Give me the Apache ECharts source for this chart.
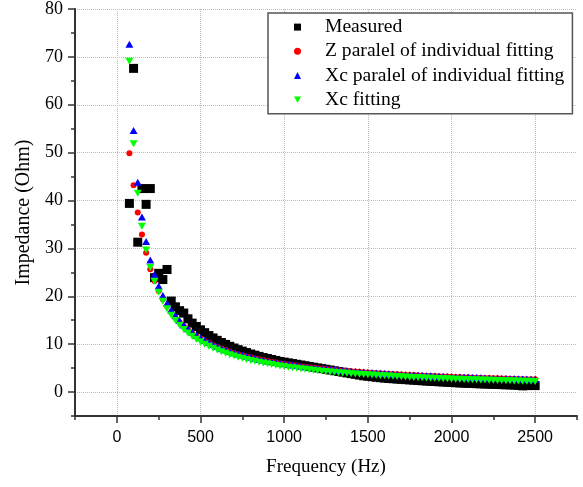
<!DOCTYPE html>
<html>
<head>
<meta charset="utf-8">
<script src="https://cdn.jsdelivr.net/npm/echarts@6/dist/echarts.min.js"></script>
<style>
html,body{margin:0;padding:0;background:#fff;}
#chart{width:583px;height:487px;}
</style>
</head>
<body>
<div id="chart"></div>
<script>
const freq = [75,100,125,150,175,200,225,250,275,300,325,350,375,400,425,450,475,500,525,550,575,600,625,650,675,700,725,750,775,800,825,850,875,900,925,950,975,1000,1025,1050,1075,1100,1125,1150,1175,1200,1225,1250,1275,1300,1325,1350,1375,1400,1425,1450,1475,1500,1525,1550,1575,1600,1625,1650,1675,1700,1725,1750,1775,1800,1825,1850,1875,1900,1925,1950,1975,2000,2025,2050,2075,2100,2125,2150,2175,2200,2225,2250,2275,2300,2325,2350,2375,2400,2425,2450,2475,2500];

const measured = [39.4,67.6,31.3,42.5,39.2,42.5,23.9,24.8,23.5,25.6,19.0,17.8,17.0,16.5,15.3,14.4,13.7,13.0,12.4,11.8,11.3,10.8,10.35,9.95,9.55,9.2,8.85,8.55,8.25,7.95,7.7,7.45,7.2,7.0,6.8,6.6,6.4,6.25,6.1,5.95,5.8,5.65,5.5,5.35,5.2,5.05,4.9,4.75,4.6,4.45,4.3,4.15,4.0,3.85,3.7,3.55,3.4,3.3,3.2,3.1,3.0,2.92,2.85,2.78,2.72,2.66,2.6,2.54,2.48,2.42,2.36,2.3,2.25,2.2,2.15,2.1,2.05,2.0,1.95,1.9,1.87,1.83,1.8,1.75,1.72,1.68,1.65,1.62,1.58,1.55,1.52,1.5,1.45,1.4,1.3,1.35,1.4,1.35];

const zParallel = [49.9,43.2,37.5,32.9,29.1,25.64,23.17,21.12,19.39,17.92,16.66,15.56,14.60,13.76,13.00,12.33,11.72,11.17,10.68,10.23,9.81,9.43,9.08,8.76,8.46,8.17,7.91,7.67,7.44,7.23,7.02,6.84,6.66,6.48,6.32,6.18,6.03,5.89,5.76,5.63,5.51,5.40,5.29,5.19,5.09,4.99,4.90,4.81,4.72,4.64,4.56,4.49,4.42,4.35,4.28,4.22,4.16,4.10,4.04,3.98,3.93,3.87,3.82,3.77,3.72,3.67,3.63,3.58,3.54,3.50,3.46,3.42,3.38,3.34,3.30,3.27,3.23,3.20,3.16,3.13,3.10,3.07,3.04,3.01,2.98,2.95,2.92,2.90,2.87,2.84,2.82,2.79,2.77,2.75,2.72,2.70,2.68,2.65];

const xcParallel = [72.66,54.62,43.80,36.58,31.43,27.56,24.55,22.15,20.18,18.54,17.15,15.96,14.93,14.03,13.23,12.53,11.89,11.32,10.81,10.34,9.91,9.52,9.16,8.83,8.52,8.23,7.96,7.72,7.48,7.27,7.06,6.87,6.69,6.51,6.35,6.20,6.05,5.91,5.78,5.65,5.53,5.42,5.31,5.21,5.11,5.01,4.92,4.83,4.74,4.66,4.58,4.51,4.44,4.37,4.30,4.23,4.17,4.11,4.05,3.99,3.94,3.88,3.83,3.78,3.73,3.68,3.64,3.59,3.55,3.51,3.47,3.43,3.39,3.35,3.31,3.28,3.24,3.21,3.17,3.14,3.11,3.08,3.05,3.02,2.99,2.96,2.93,2.91,2.88,2.85,2.83,2.80,2.78,2.76,2.73,2.71,2.69,2.66];

const xcFitting = [69.08,51.85,41.51,34.62,29.69,26.00,23.13,20.83,18.95,17.38,16.06,14.92,13.94,13.08,12.31,11.64,11.03,10.49,10.00,9.55,9.14,8.77,8.42,8.10,7.81,7.54,7.28,7.04,6.82,6.61,6.42,6.23,6.06,5.89,5.74,5.59,5.45,5.32,5.19,5.07,4.96,4.85,4.75,4.65,4.55,4.46,4.37,4.29,4.20,4.13,4.05,3.98,3.91,3.84,3.78,3.72,3.66,3.60,3.54,3.49,3.43,3.38,3.33,3.28,3.24,3.19,3.15,3.10,3.06,3.02,2.98,2.94,2.91,2.87,2.84,2.80,2.77,2.74,2.70,2.67,2.64,2.61,2.58,2.55,2.53,2.50,2.47,2.45,2.42,2.40,2.37,2.35,2.33,2.30,2.28,2.26,2.24,2.22];

const seriesNames = ['Measured','Z paralel of individual fitting','Xc paralel of individual fitting','Xc fitting'];
const xMajorTicks = [0,500,1000,1500,2000,2500];
const yMajorTicks = [0,10,20,30,40,50,60,70,80];

const pairs = arr => freq.map((f, i) => [f, arr[i]]);
const axisColor = '#333';
const downTri = 'path://M0,0L10,0L5,9Z';
const plain = v => String(v);

const chart = echarts.init(document.getElementById('chart'), null, {renderer: 'canvas'});
chart.setOption({
  animation: false,
  backgroundColor: '#fff',
  grid: {left: 75, right: 6, top: 9, bottom: 71, containLabel: false},
  legend: {
    orient: 'vertical', left: 268, top: 13,
    padding: [2, 8, 2, 26], itemGap: 0, itemWidth: 7, itemHeight: 7,
    borderColor: '#555', borderWidth: 1.5, backgroundColor: '#fff',
    textStyle: {fontFamily: 'Liberation Serif', fontSize: 19.6, lineHeight: 24.2, color: '#000', padding: [0, 0, 0, 19]},
    data: [
      {name: seriesNames[0], icon: 'rect'},
      {name: seriesNames[1], icon: 'circle'},
      {name: seriesNames[2], icon: 'triangle'},
      {name: seriesNames[3], icon: downTri}
    ]
  },
  xAxis: [
    {
      type: 'value', min: -250, max: 2750, interval: 250, position: 'bottom',
      axisLine: {show: true, onZero: false, lineStyle: {color: axisColor, width: 2}},
      axisTick: {show: true, inside: false, length: 4, lineStyle: {color: axisColor, width: 1.5}},
      axisLabel: {show: false}, splitLine: {show: false}
    },
    {
      type: 'value', min: -250, max: 2750, position: 'bottom', offset: 0,
      name: 'Frequency (Hz)', nameLocation: 'middle', nameGap: 42,
      nameTextStyle: {fontFamily: 'Liberation Serif', fontSize: 19, color: '#000'},
      axisLine: {show: false, onZero: false},
      axisTick: {show: true, inside: false, length: 7, customValues: xMajorTicks, lineStyle: {color: axisColor, width: 1.5}},
      axisLabel: {show: true, customValues: xMajorTicks, formatter: plain, margin: 14, fontFamily: 'Liberation Sans', fontSize: 16, color: '#000'},
      splitLine: {show: true, lineStyle: {color: '#bdbdbd', type: 'dotted', width: 1}}
    }
  ],
  yAxis: [
    {
      type: 'value', min: -5, max: 80, interval: 5, position: 'left',
      axisLine: {show: true, onZero: false, lineStyle: {color: axisColor, width: 2}},
      axisTick: {show: true, inside: false, length: 4, lineStyle: {color: axisColor, width: 1.5}},
      axisLabel: {show: false}, splitLine: {show: false}
    },
    {
      type: 'value', min: -5, max: 80, position: 'left', offset: 0,
      name: 'Impedance (Ohm)', nameLocation: 'middle', nameGap: 41,
      nameTextStyle: {fontFamily: 'Liberation Serif', fontSize: 20, color: '#000'},
      axisLine: {show: false, onZero: false},
      axisTick: {show: true, inside: false, length: 7, customValues: yMajorTicks, lineStyle: {color: axisColor, width: 1.5}},
      axisLabel: {show: true, customValues: yMajorTicks, formatter: plain, margin: 12, fontFamily: 'Liberation Serif', fontSize: 18, color: '#000'},
      splitLine: {show: true, lineStyle: {color: '#bdbdbd', type: 'dotted', width: 1}}
    }
  ],
  series: [
    {name: seriesNames[0], type: 'scatter', xAxisIndex: 0, yAxisIndex: 0, symbol: 'rect', symbolSize: 9,
     itemStyle: {color: '#000000', opacity: 1}, data: pairs(measured)},
    {name: seriesNames[1], type: 'scatter', xAxisIndex: 0, yAxisIndex: 0, symbol: 'circle', symbolSize: 6,
     itemStyle: {color: '#ff0000', opacity: 1}, data: pairs(zParallel)},
    {name: seriesNames[2], type: 'scatter', xAxisIndex: 0, yAxisIndex: 0, symbol: 'triangle', symbolSize: [8, 7],
     itemStyle: {color: '#0000ff', opacity: 1}, data: pairs(xcParallel)},
    {name: seriesNames[3], type: 'scatter', xAxisIndex: 0, yAxisIndex: 0, symbol: downTri, symbolSize: [8, 7],
     itemStyle: {color: '#00ff00', opacity: 1}, data: pairs(xcFitting)}
  ]
});
</script>
</body>
</html>
